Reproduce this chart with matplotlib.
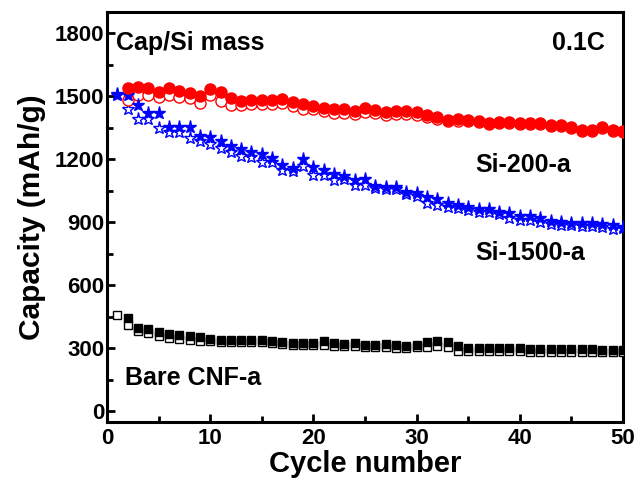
import matplotlib
matplotlib.use("Agg")
import matplotlib.pyplot as plt
from matplotlib.ticker import MultipleLocator

plt.rcParams['font.family'] = ['Liberation Sans', 'DejaVu Sans']
plt.rcParams['font.weight'] = 'bold'

cycles_si200 = list(range(2, 51))
si200_charge = [1541, 1544, 1541, 1521, 1541, 1525, 1516, 1502, 1535, 1521,
                1489, 1478, 1481, 1481, 1481, 1486, 1473, 1461, 1455, 1445,
                1439, 1439, 1431, 1442, 1434, 1426, 1431, 1431, 1426, 1410,
                1402, 1387, 1391, 1387, 1382, 1374, 1378, 1376, 1371, 1371,
                1371, 1363, 1363, 1355, 1339, 1339, 1355, 1339, 1336]
si200_discharge = [1480, 1505, 1505, 1497, 1505, 1497, 1489, 1466, 1505, 1478,
                   1458, 1458, 1462, 1462, 1462, 1468, 1452, 1440, 1437, 1428,
                   1422, 1422, 1416, 1426, 1418, 1410, 1416, 1416, 1412, 1400,
                   1392, 1380, 1384, 1380, 1376, 1368, 1372, 1370, 1366, 1366,
                   1366, 1358, 1358, 1350, 1333, 1333, 1350, 1333, 1330]

cycles_si1500 = list(range(1, 51))
si1500_charge = [1510, 1505, 1458, 1418, 1418, 1355, 1352, 1352, 1310, 1307,
                 1288, 1263, 1247, 1236, 1225, 1205, 1173, 1157, 1200, 1162,
                 1149, 1130, 1121, 1102, 1105, 1073, 1067, 1070, 1046, 1038,
                 1019, 1011, 991, 983, 975, 962, 962, 951, 943, 932,
                 932, 919, 908, 903, 898, 898, 895, 892, 887, 879]
si1500_discharge = [1505, 1437, 1390, 1390, 1347, 1331, 1331, 1303, 1287, 1273,
                    1252, 1236, 1213, 1210, 1189, 1185, 1149, 1146, 1168, 1125,
                    1125, 1102, 1105, 1078, 1078, 1065, 1060, 1060, 1035, 1025,
                    994, 983, 975, 967, 960, 951, 948, 938, 919, 911,
                    911, 903, 892, 887, 887, 882, 882, 878, 866, 871]

cycles_cnf_charge = list(range(2, 51))
cnf_charge = [445, 397, 393, 377, 370, 366, 361, 355, 345,
              342, 342, 342, 342, 340, 334, 330, 328, 326, 326,
              336, 326, 322, 324, 318, 318, 320, 316, 310, 318,
              332, 336, 330, 310, 302, 302, 300, 300, 300, 300,
              298, 298, 298, 298, 296, 296, 296, 294, 294, 294]
cycles_cnf_discharge = list(range(1, 51))
cnf_discharge = [461, 413, 381, 374, 361, 350, 345, 342, 334, 334,
                 332, 332, 332, 332, 330, 325, 320, 318, 316, 316,
                 318, 312, 312, 312, 306, 306, 308, 304, 300, 306,
                 308, 312, 306, 286, 288, 286, 286, 286, 286, 286,
                 284, 284, 284, 284, 284, 284, 284, 282, 282, 282]

fig = plt.figure(figsize=(6.38, 4.83), dpi=100)
ax = fig.add_axes([0.1677, 0.1263, 0.8088, 0.8487])

ms_c = 8.0
ms_s = 6.3
ms_st = 9.5
ax.plot(cycles_cnf_discharge, cnf_discharge, linestyle='none', marker='s', ms=ms_s,
        mfc='white', mec='black', mew=1.0, zorder=3)
ax.plot(cycles_cnf_charge, cnf_charge, linestyle='none', marker='s', ms=ms_s,
        mfc='black', mec='black', mew=1.0, zorder=4)
ax.plot(cycles_si1500, si1500_discharge, linestyle='none', marker='*', ms=ms_st,
        mfc='white', mec='blue', mew=1.0, zorder=3)
ax.plot(cycles_si1500, si1500_charge, linestyle='none', marker='*', ms=ms_st,
        mfc='blue', mec='blue', mew=1.0, zorder=4)
ax.plot(cycles_si200, si200_discharge, linestyle='none', marker='o', ms=ms_c,
        mfc='white', mec='red', mew=1.0, zorder=3)
ax.plot(cycles_si200, si200_charge, linestyle='none', marker='o', ms=ms_c,
        mfc='red', mec='red', mew=1.0, zorder=4)

ax.set_xlim(0, 50)
ax.set_ylim(-50, 1900)
ax.xaxis.set_major_locator(MultipleLocator(10))
ax.xaxis.set_minor_locator(MultipleLocator(5))
ax.yaxis.set_major_locator(MultipleLocator(300))
ax.yaxis.set_minor_locator(MultipleLocator(150))
ax.tick_params(which='both', direction='in', top=False, right=False,
               labelsize=16, width=2.0)
ax.tick_params(axis='x', pad=4)
ax.tick_params(axis='y', pad=2)
ax.tick_params(which='major', length=6)
ax.tick_params(which='minor', length=4)
for lbl in ax.get_xticklabels() + ax.get_yticklabels():
    lbl.set_fontweight('bold')
for sp in ax.spines.values():
    sp.set_linewidth(2.2)

ax.set_xlabel('Cycle number', fontsize=21, fontweight='bold', labelpad=1)
ax.set_ylabel('Capacity (mAh/g)', fontsize=21.5, fontweight='bold', labelpad=6)

ax.text(0.018, 0.955, 'Cap/Si mass', transform=ax.transAxes, fontsize=18,
        fontweight='bold', va='top', ha='left')
ax.text(0.965, 0.955, '0.1C', transform=ax.transAxes, fontsize=18,
        fontweight='bold', va='top', ha='right')
ax.text(35.7, 1173, 'Si-200-a', fontsize=18, fontweight='bold', va='center', ha='left')
ax.text(35.7, 755, 'Si-1500-a', fontsize=18, fontweight='bold', va='center', ha='left')
ax.text(1.7, 161, 'Bare CNF-a', fontsize=18, fontweight='bold', va='center', ha='left')

fig.savefig('out.png', dpi=100)
